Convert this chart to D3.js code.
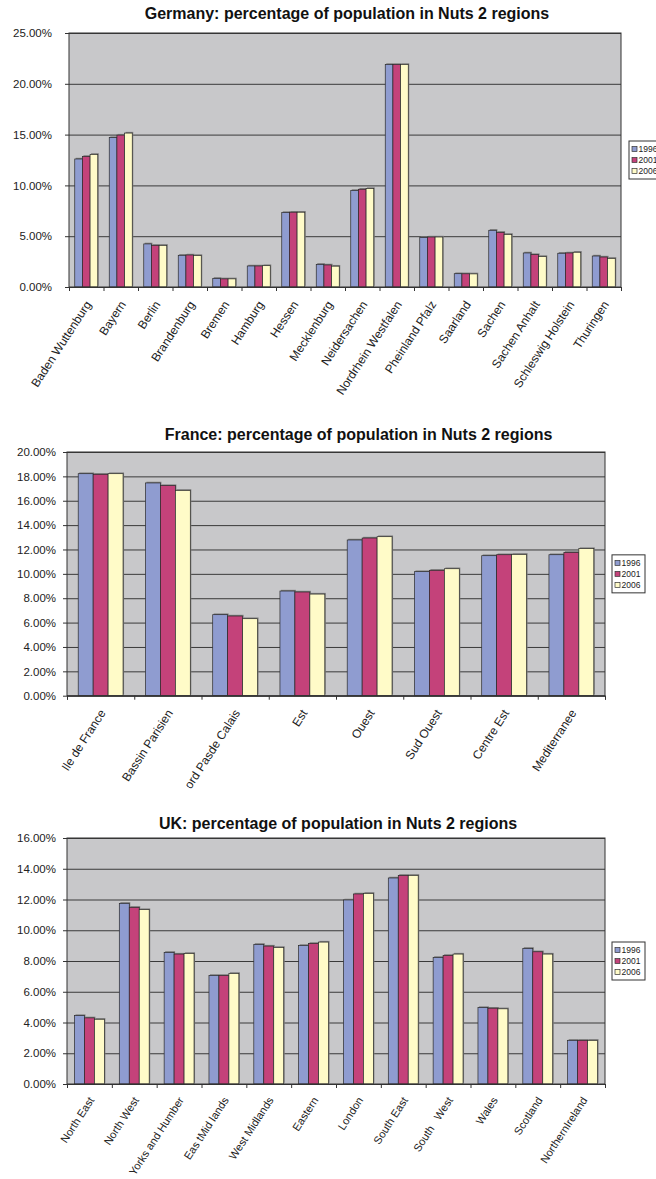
<!DOCTYPE html>
<html>
<head>
<meta charset="utf-8">
<script src="https://cdn.jsdelivr.net/npm/d3@7"></script>
<style>
  html, body { margin: 0; padding: 0; background: #fff; }
  svg { display: block; font-family: "Liberation Sans", Arial, sans-serif; }
</style>
</head>
<body>
<svg id="chart" width="656" height="1179"></svg>
<script>
// ---------- DATA ----------
const years = ["1996", "2001", "2006"];

const germanyRegions = ["Baden Wuttenburg", "Bayern", "Berlin", "Brandenburg", "Bremen", "Hamburg",
  "Hessen", "Mecklenburg", "Neidersachen", "Nordrhein Westfalen", "Pheinland Pfalz", "Saarland",
  "Sachen", "Sachen Anhalt", "Schleswig Holstein", "Thuringen"];
const germany1996 = [12.6, 14.7, 4.24, 3.12, 0.85, 2.07, 7.33, 2.23, 9.5, 21.9, 4.86, 1.31, 5.58, 3.35, 3.32, 3.05];
const germany2001 = [12.85, 14.95, 4.1, 3.15, 0.8, 2.07, 7.36, 2.17, 9.62, 21.9, 4.92, 1.3, 5.38, 3.19, 3.35, 2.95];
const germany2006 = [13.05, 15.15, 4.1, 3.1, 0.8, 2.1, 7.36, 2.05, 9.69, 21.9, 4.92, 1.29, 5.18, 3.0, 3.42, 2.82];
const germanyTicks = [0, 5, 10, 15, 20, 25];

const franceRegions = ["Ile de France", "Bassin Parisien", "Nord Pasde Calais", "Est", "Ouest",
  "Sud Ouest", "Centre Est", "Mediterranee"];
const france1996 = [18.22, 17.46, 6.65, 8.59, 12.78, 10.18, 11.49, 11.57];
const france2001 = [18.17, 17.24, 6.54, 8.51, 12.94, 10.29, 11.57, 11.76];
const france2006 = [18.22, 16.85, 6.32, 8.34, 13.05, 10.42, 11.6, 12.07];
const franceTicks = [0, 2, 4, 6, 8, 10, 12, 14, 16, 18, 20];

const ukRegions = ["North East", "North West", "Yorks and Humber", "Eas tMid lands", "West Midlands",
  "Eastern", "London", "South East", "South   West", "Wales", "Scotland", "NorthernIreland"];
const uk1996 = [4.45, 11.75, 8.56, 7.06, 9.08, 9.01, 11.97, 13.4, 8.23, 4.97, 8.82, 2.84];
const uk2001 = [4.3, 11.49, 8.45, 7.06, 8.97, 9.14, 12.36, 13.57, 8.36, 4.93, 8.6, 2.84];
const uk2006 = [4.21, 11.34, 8.49, 7.19, 8.88, 9.23, 12.4, 13.57, 8.45, 4.89, 8.45, 2.84];
const ukTicks = [0, 2, 4, 6, 8, 10, 12, 14, 16];

// ---------- STYLE ----------
const colors = ["#8f9cd0", "#c4427a", "#fffbc8"];
const plotBg = "#c8c8ca";

const svg = d3.select("#chart");
const defs = svg.append("defs");

function drawChart(cfg) {
  const g = svg.append("g");
  const series = [cfg.s1, cfg.s2, cfg.s3];
  const rows = cfg.cats.map((c, i) => ({ cat: c, vals: series.map((s, k) => ({ key: years[k], v: s[i] })) }));

  const x = d3.scaleBand().domain(cfg.cats).range([cfg.left, cfg.right]).padding(0);
  const bw = x.bandwidth();
  const gapHalf = bw * 0.75 / 4.5;
  const xs = d3.scaleBand().domain(years).range([gapHalf, bw - gapHalf]).padding(0);
  const y = d3.scaleLinear().domain([0, d3.max(cfg.ticks)]).range([cfg.bottom, cfg.top]);

  // Title
  g.append("text")
    .attr("x", cfg.titleX).attr("y", cfg.titleY)
    .attr("text-anchor", "middle")
    .attr("font-size", 16).attr("font-weight", "bold").attr("fill", "#111")
    .text(cfg.title);

  // Plot background
  g.append("rect")
    .attr("x", cfg.left).attr("y", cfg.top)
    .attr("width", cfg.right - cfg.left).attr("height", cfg.bottom - cfg.top)
    .attr("fill", plotBg);

  // Gridlines
  const grid = g.append("g").attr("transform", `translate(${cfg.left},0)`)
    .call(d3.axisLeft(y).tickValues(cfg.ticks).tickSize(-(cfg.right - cfg.left)).tickFormat(""));
  grid.select(".domain").remove();
  grid.selectAll(".tick line").attr("stroke", "#3a3a3a").attr("stroke-width", 1);

  // Bars
  const groups = g.append("g").selectAll("g").data(rows).join("g")
    .attr("transform", d => `translate(${x(d.cat)},0)`);
  groups.selectAll("rect.shadow").data(d => d.vals).join("rect")
    .attr("class", "shadow")
    .attr("x", d => xs(d.key) + 1)
    .attr("y", d => y(d.v) - 1.2)
    .attr("width", xs.bandwidth())
    .attr("height", d => y(0) - y(d.v))
    .attr("fill", "#7c7c7c");
  groups.selectAll("rect.bar").data(d => d.vals).join("rect")
    .attr("class", "bar")
    .attr("x", d => xs(d.key))
    .attr("y", d => y(d.v))
    .attr("width", xs.bandwidth())
    .attr("height", d => y(0) - y(d.v))
    .attr("fill", (d, i) => colors[i])
    .attr("stroke", "#2a2a2a").attr("stroke-width", 0.7);

  // Plot border
  g.append("rect")
    .attr("x", cfg.left).attr("y", cfg.top)
    .attr("width", cfg.right - cfg.left).attr("height", cfg.bottom - cfg.top)
    .attr("fill", "none").attr("stroke", "#333").attr("stroke-width", 1);

  // Y axis
  const yAx = g.append("g").attr("transform", `translate(${cfg.left},0)`)
    .call(d3.axisLeft(y).tickValues(cfg.ticks).tickSize(4).tickPadding(cfg.labelGap)
      .tickFormat(d => d3.format(".2f")(d) + "%"));
  yAx.select(".domain").remove();
  yAx.selectAll(".tick line").attr("stroke", "#333");
  yAx.selectAll(".tick text").attr("font-size", 11.5).attr("fill", "#222")
    .attr("font-family", "Liberation Sans, Arial, sans-serif");

  // X axis ticks at category boundaries
  const xb = d3.scaleLinear().domain([0, cfg.cats.length]).range([cfg.left, cfg.right]);
  const xAx = g.append("g").attr("transform", `translate(0,${cfg.bottom})`)
    .call(d3.axisBottom(xb).tickValues(d3.range(cfg.cats.length + 1)).tickSize(4).tickFormat(""));
  xAx.select(".domain").attr("stroke", "#333");
  xAx.selectAll(".tick line").attr("stroke", "#333");

  // X labels
  const lab = g.append("g");
  lab.selectAll("text").data(cfg.cats).join("text")
    .attr("transform", d => `translate(${x(d) + bw / 2 + 2},${cfg.bottom + cfg.labelOffset}) rotate(-57)`)
    .attr("text-anchor", "end")
    .attr("dy", "0.35em")
    .attr("font-size", cfg.labelSize).attr("fill", "#222")
    .style("white-space", "pre")
    .text(d => d);

  // Clip the leading letter of a label that runs off the chart area (as in the reference)
  if (cfg.clipLabel) {
    const node = lab.selectAll("text").filter(d => d === cfg.clipLabel).node();
    if (node) {
      const len = node.getComputedTextLength();
      const first = node.getSubStringLength(0, 1);
      const id = "clip" + cfg.id;
      defs.append("clipPath").attr("id", id).attr("clipPathUnits", "userSpaceOnUse")
        .append("rect")
        .attr("x", -len + first + 0.5).attr("y", -20)
        .attr("width", len - first + 10).attr("height", 40);
      d3.select(node).attr("clip-path", `url(#${id})`);
    }
  }

  // Legend
  const lw = 33, lh = 38;
  const lx = cfg.legendX, ly = (cfg.top + cfg.bottom) / 2 - lh / 2;
  const leg = g.append("g").attr("transform", `translate(${lx},${ly})`);
  leg.append("rect").attr("width", lw).attr("height", lh)
    .attr("fill", "#fff").attr("stroke", "#333").attr("stroke-width", 1);
  const items = leg.selectAll("g").data(years).join("g")
    .attr("transform", (d, i) => `translate(3,${8 + i * 11})`);
  items.append("rect").attr("x", 0).attr("y", -2.5).attr("width", 5).attr("height", 5)
    .attr("fill", (d, i) => colors[i]).attr("stroke", "#333").attr("stroke-width", 0.7);
  items.append("text").attr("x", 6.5).attr("dy", "0.35em")
    .attr("font-size", 8.5).attr("fill", "#222").text(d => d);
}

drawChart({
  id: "de", title: "Germany: percentage of population in Nuts 2 regions",
  titleX: 347, titleY: 19,
  cats: germanyRegions, s1: germany1996, s2: germany2001, s3: germany2006, ticks: germanyTicks,
  left: 69, right: 621, top: 33, bottom: 287, labelGap: 13, legendX: 629,
  labelSize: 12, labelOffset: 15
});
drawChart({
  id: "fr", title: "France: percentage of population in Nuts 2 regions",
  titleX: 358.6, titleY: 439.5,
  cats: franceRegions, s1: france1996, s2: france2001, s3: france2006, ticks: franceTicks,
  left: 67, right: 605, top: 452, bottom: 695.7, labelGap: 7, legendX: 612,
  labelSize: 12, labelOffset: 15, clipLabel: "Nord Pasde Calais"
});
drawChart({
  id: "uk", title: "UK: percentage of population in Nuts 2 regions",
  titleX: 338, titleY: 828.5,
  cats: ukRegions, s1: uk1996, s2: uk2001, s3: uk2006, ticks: ukTicks,
  left: 67, right: 605, top: 838, bottom: 1084, labelGap: 7, legendX: 612,
  labelSize: 11, labelOffset: 14
});
</script>
</body>
</html>
